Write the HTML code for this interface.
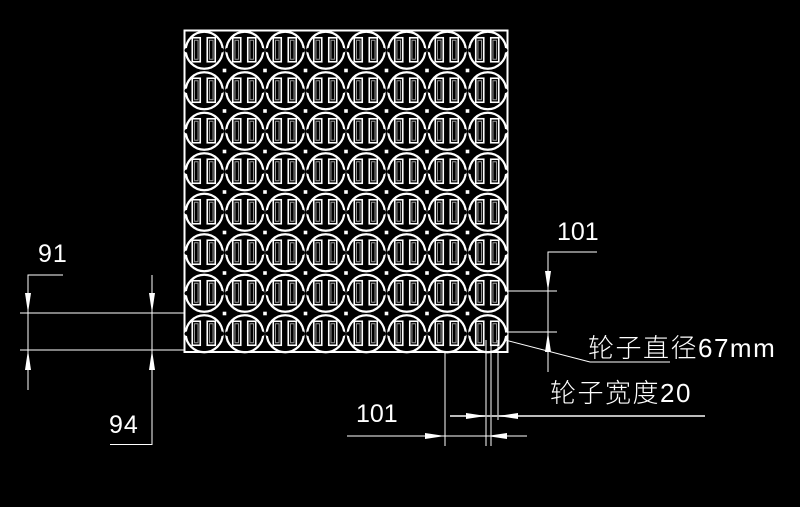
<!DOCTYPE html>
<html><head><meta charset="utf-8"><style>
html,body{margin:0;padding:0;background:#000;width:800px;height:507px;overflow:hidden}
svg{display:block}
text{font-family:"Liberation Sans","Noto Sans CJK SC",sans-serif;fill:#fff;font-weight:300}
</style></head><body>
<svg id="s" width="800" height="507" viewBox="0 0 800 507" xmlns="http://www.w3.org/2000/svg">
<defs>
<g id="c">
<circle cx="0" cy="0" r="18.5" fill="none" stroke="#fff" stroke-width="2.2"/>
<rect x="-12" y="-12.5" width="8" height="24" fill="none" stroke="#fff" stroke-width="1.6"/>
<rect x="-9.8" y="-10" width="3.6" height="19" fill="none" stroke="#999" stroke-width="1"/>
<rect x="3" y="-12.5" width="8" height="24" fill="none" stroke="#fff" stroke-width="1.6"/>
<rect x="5.2" y="-10" width="3.6" height="19" fill="none" stroke="#999" stroke-width="1"/>
<circle cx="-17.5" cy="0" r="2.2" fill="#000"/>
<circle cx="17.5" cy="0" r="2.2" fill="#000"/>
</g>
</defs>
<rect x="184.5" y="30.5" width="323" height="321.5" fill="none" stroke="#fff" stroke-width="2"/>
<g id="grid"></g>
<g stroke="#fff" stroke-width="1" fill="none">
<line x1="20" y1="313" x2="184" y2="313"/>
<line x1="20" y1="350" x2="184" y2="350"/>
<polyline points="63,275 28,275 28,390"/>
<polyline points="110,444.5 152,444.5 152,275"/>
<line x1="505" y1="291" x2="557" y2="291"/>
<line x1="505" y1="332" x2="557" y2="332"/>
<polyline points="597,252 548,252 548,372"/>
<polyline points="505,340 590,362 670,362"/>
<line x1="445" y1="352" x2="445" y2="446"/>
<line x1="486" y1="340" x2="486" y2="446"/>
<line x1="491" y1="340" x2="491" y2="446"/>
<line x1="498" y1="340" x2="498" y2="420"/>
<line x1="347" y1="436" x2="527" y2="436"/>
</g>
<line x1="450" y1="416" x2="705" y2="416" stroke="#bbb" stroke-width="2"/>
<g fill="#fff">
<polygon points="28,313 25,293 31,293"/><polygon points="28,350 25,370 31,370"/>
<polygon points="152,313 149,293 155,293"/><polygon points="152,350 149,370 155,370"/>
<polygon points="548,291 545,271 551,271"/><polygon points="548,332 545,352 551,352"/>
<polygon points="445,436 425,433 425,439"/><polygon points="487,436 507,433 507,439"/>
<polygon points="486,416 466,413 466,419"/><polygon points="498,416 518,413 518,419"/>
</g>
<text x="38" y="262" font-size="25" letter-spacing="1">91</text>
<text x="109" y="433" font-size="25" letter-spacing="1">94</text>
<text x="557" y="240" font-size="25">101</text>
<text x="356" y="422" font-size="25">101</text>
<text x="588" y="357" font-size="26" letter-spacing="1.5">轮子直径67mm</text>
<text x="550" y="402" font-size="26" letter-spacing="1.5">轮子宽度20</text>
</svg>
<script>
var g=document.getElementById('grid'),h='';
for(var i=0;i<8;i++)for(var j=0;j<8;j++){
var x=184+20.25+i*40.5,y=30+20.25+j*40.5;
h+='<use href="#c" x="'+x+'" y="'+y+'"/>';}
for(var i=1;i<8;i++)for(var j=1;j<8;j++){
var x=184+i*40.5,y=30+j*40.5;
h+='<rect x="'+(x-1.8)+'" y="'+(y-1.8)+'" width="3.6" height="3.6" fill="#fff"/>';}
g.innerHTML=h;
</script>
</body></html>
